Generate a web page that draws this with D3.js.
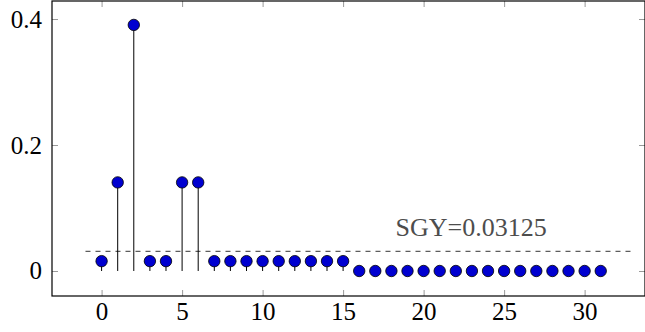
<!DOCTYPE html>
<html>
<head>
<meta charset="utf-8">
<script src="https://cdn.jsdelivr.net/npm/d3@7"></script>
<style>
  body { margin: 0; background: #fff; }
  svg text { font-family: "Liberation Serif", "DejaVu Serif", serif !important; }
</style>
</head>
<body>
<div class="chart"></div>
<script>
// stem values, index 0..31
var indices = d3.range(32);
var values = [0.015625, 0.140625, 0.390625, 0.015625, 0.015625, 0.140625, 0.140625,
  0.015625, 0.015625, 0.015625, 0.015625, 0.015625, 0.015625, 0.015625, 0.015625, 0.015625,
  0, 0, 0, 0, 0, 0, 0, 0, 0, 0, 0, 0, 0, 0, 0, 0];
var xTicks = [0, 5, 10, 15, 20, 25, 30];
var yTicks = [0, 0.2, 0.4];
var threshold = 0.03125;
var thresholdLabel = "SGY=0.03125";

var margin = { top: 1, right: 0, bottom: 36, left: 52 };
var width = 645 - margin.left - margin.right;
var height = 332 - margin.top - margin.bottom;

var svg = d3.select(".chart").append("svg")
  .attr("width", 645).attr("height", 332);

var g = svg.append("g")
  .attr("transform", `translate(${margin.left},${margin.top})`);

var x = d3.scaleLinear().domain([-3.08, 33.75]).range([0, width]);
var y = d3.scaleLinear().domain([-0.0397, 0.4286]).range([height, 0]);

var tickColor = "#999";

// ticks on all four sides, pointing inward
function tickStyle(sel) {
  sel.attr("font-family", null);
  sel.select(".domain").remove();
  sel.selectAll(".tick line").attr("stroke", tickColor);
  sel.selectAll(".tick text").attr("fill", "#000")
    .style("font-family", "'Liberation Serif', serif", "important")
    .style("font-size", "25px");
}

g.append("g").attr("transform", `translate(0,${height})`)
  .call(d3.axisBottom(x).tickValues(xTicks).tickSize(-6).tickPadding(6).tickFormat(d3.format("d")))
  .call(tickStyle);
g.append("g")
  .call(d3.axisTop(x).tickValues(xTicks).tickSize(-6).tickFormat(""))
  .call(tickStyle);
g.append("g")
  .call(d3.axisLeft(y).tickValues(yTicks).tickSize(-6).tickPadding(10).tickFormat(d => d === 0 ? "0" : d3.format(".1f")(d)))
  .call(tickStyle);
g.append("g").attr("transform", `translate(${width},0)`)
  .call(d3.axisRight(y).tickValues(yTicks).tickSize(-6).tickFormat(""))
  .call(tickStyle);

// threshold line
g.append("line")
  .attr("x1", x(-1)).attr("x2", x(33))
  .attr("y1", y(threshold)).attr("y2", y(threshold))
  .attr("stroke", "#000").attr("stroke-width", 0.8)
  .attr("stroke-dasharray", "5,5");

g.append("text")
  .attr("x", x(22.95)).attr("y", y(threshold) - 15)
  .attr("text-anchor", "middle")
  .attr("fill", "#4d4d4d")
  .style("font-size", "26px")
  .text(thresholdLabel);

// stems
g.selectAll(".stem").data(indices).enter().append("line")
  .attr("class", "stem")
  .attr("x1", i => x(i)).attr("x2", i => x(i))
  .attr("y1", y(0)).attr("y2", i => y(values[i]))
  .attr("stroke", "#000").attr("stroke-width", 1);

// markers
g.selectAll(".dot").data(indices).enter().append("circle")
  .attr("class", "dot")
  .attr("cx", i => x(i)).attr("cy", i => y(values[i]))
  .attr("r", 5.7)
  .attr("fill", "#0000d0").attr("stroke", "#000").attr("stroke-width", 0.8);

// frame
g.append("rect")
  .attr("width", width).attr("height", height)
  .attr("fill", "none").attr("stroke", "#000").attr("stroke-width", 1.2);
</script>
</body>
</html>
